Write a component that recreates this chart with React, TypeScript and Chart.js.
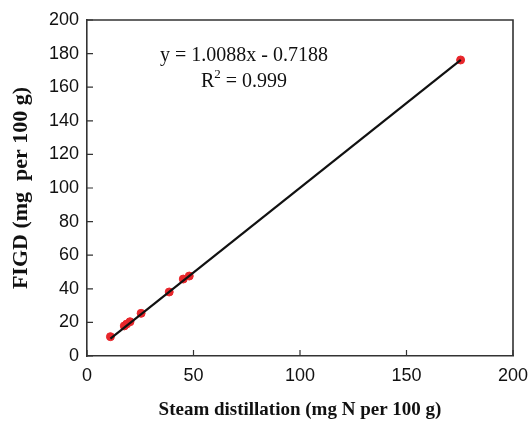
import React, { useEffect, useRef } from "react";
import { Chart, registerables } from "chart.js";

Chart.register(...registerables);

const steamX = [11, 17.5, 18.6, 20.2, 25.4, 38.6, 45.2, 48, 175.4];
const figdY = [11.5, 17.9, 19, 20.4, 25.4, 38.1, 45.8, 47.6, 176.2];
const trendX = [11, 175.5];
const trendY = [10.4, 176.3];
const equationText = "y = 1.0088x - 0.7188";
const r2Text = " = 0.999";
const xTitle = "Steam distillation (mg N per 100 g)";
const yTitle = "FIGD (mg  per 100 g)";

const AXIS_COLOR = "#333";

const framePlugin = {
  id: "frameAndTicks",
  afterDraw(chart: any) {
    const { ctx, chartArea, scales } = chart;
    const { left, right, top, bottom } = chartArea;
    ctx.save();
    ctx.strokeStyle = AXIS_COLOR;
    ctx.lineWidth = 1.6;
    ctx.beginPath();
    ctx.moveTo(left, top);
    ctx.lineTo(right, top);
    ctx.lineTo(right, bottom);
    ctx.stroke();
    // inward ticks
    ctx.lineWidth = 1.2;
    const tl = 6;
    ctx.beginPath();
    scales.x.ticks.forEach((t: any) => {
      const px = scales.x.getPixelForValue(t.value);
      ctx.moveTo(px, bottom);
      ctx.lineTo(px, bottom - tl);
    });
    scales.y.ticks.forEach((t: any) => {
      const py = scales.y.getPixelForValue(t.value);
      ctx.moveTo(left, py);
      ctx.lineTo(left + tl, py);
    });
    ctx.stroke();
    // equation text
    ctx.fillStyle = "#111";
    ctx.font = "20px 'Liberation Serif', 'Times New Roman', serif";
    ctx.textBaseline = "middle";
    ctx.textAlign = "center";
    const ex = scales.x.getPixelForValue(73.7);
    const ey = scales.y.getPixelForValue(179);
    ctx.fillText(equationText, ex, ey);
    const ry = scales.y.getPixelForValue(163);
    const rW = ctx.measureText("R").width;
    ctx.font = "13px 'Liberation Serif', 'Times New Roman', serif";
    const sW = ctx.measureText("2").width;
    ctx.font = "20px 'Liberation Serif', 'Times New Roman', serif";
    const restW = ctx.measureText(r2Text).width;
    const total = rW + sW + restW;
    let cx = ex - total / 2;
    ctx.textAlign = "left";
    ctx.fillText("R", cx, ry);
    cx += rW;
    ctx.font = "13px 'Liberation Serif', 'Times New Roman', serif";
    ctx.fillText("2", cx, ry - 8);
    cx += sW;
    ctx.font = "20px 'Liberation Serif', 'Times New Roman', serif";
    ctx.fillText(r2Text, cx, ry);
    ctx.restore();
  },
};

export default function App() {
  const ref = useRef<HTMLCanvasElement>(null);
  useEffect(() => {
    if (!ref.current) return;
    const points = steamX.map((x, i) => ({ x, y: figdY[i] }));
    const trend = trendX.map((x, i) => ({ x, y: trendY[i] }));
    const tickFont = { family: "'Liberation Sans', Arial, sans-serif", size: 18 };
    const xTitleFont = { family: "'Liberation Serif', 'Times New Roman', serif", size: 19, weight: "bold" as const };
    const yTitleFont = { family: "'Liberation Serif', 'Times New Roman', serif", size: 22, weight: "bold" as const };
    const chart = new Chart(ref.current, {
      type: "scatter",
      data: {
        datasets: [
          {
            type: "line",
            data: trend,
            borderColor: "#111",
            borderWidth: 2.2,
            pointRadius: 0,
            fill: false,
            order: 0,
          },
          {
            type: "scatter",
            data: points,
            backgroundColor: "#e8262b",
            borderColor: "#e8262b",
            pointRadius: 4,
            pointHoverRadius: 4,
            order: 1,
          },
        ] as any,
      },
      options: {
        animation: false,
        responsive: false,
        maintainAspectRatio: false,
        layout: { padding: { left: 0, right: 18, top: 20, bottom: 0 } },
        plugins: {
          legend: { display: false },
          tooltip: { enabled: false },
        },
        scales: {
          x: {
            type: "linear",
            min: 0,
            max: 200,
            ticks: { stepSize: 50, font: tickFont, color: "#111", padding: 9, maxRotation: 0 },
            grid: { display: true, drawOnChartArea: false, drawTicks: false },
            border: { display: true, color: AXIS_COLOR, width: 1.6 },
            title: { display: true, text: xTitle, font: xTitleFont, color: "#111", padding: { top: 0, bottom: 0 } },
            afterFit(scale: any) {
              scale.height = 65;
              scale.paddingRight = 0;
              scale.paddingLeft = 0;
            },
          },
          y: {
            type: "linear",
            min: 0,
            max: 200,
            ticks: { stepSize: 20, font: tickFont, color: "#111", padding: 8 },
            grid: { display: true, drawOnChartArea: false, drawTicks: false },
            border: { display: true, color: AXIS_COLOR, width: 1.6 },
            title: { display: true, text: yTitle, font: yTitleFont, color: "#111", padding: { top: 8, bottom: 0 } },
            afterFit(scale: any) {
              scale.width = 87;
              scale.paddingTop = 0;
              scale.paddingBottom = 0;
            },
          },
        },
      },
      plugins: [framePlugin],
    });
    return () => chart.destroy();
  }, []);
  return (
    <div style={{ position: "absolute", left: 0, top: 0, width: 531, height: 421, background: "#fff" }}>
      <canvas ref={ref} width={531} height={421} style={{ width: 531, height: 421 }} />
    </div>
  );
}
